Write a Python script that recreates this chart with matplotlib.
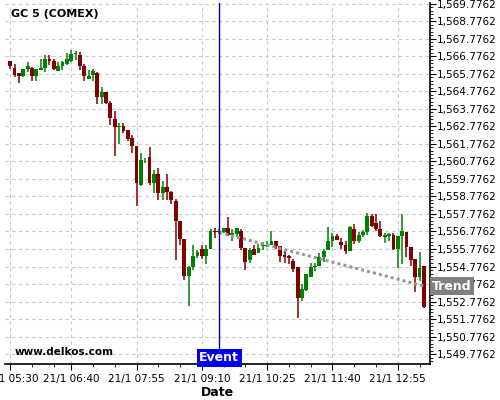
import numpy as np
import matplotlib
matplotlib.use("Agg")
import matplotlib.pyplot as plt
from matplotlib.ticker import FixedLocator, AutoMinorLocator, FuncFormatter

# 5 minute candles from 21/1 05:30
start_min = 5 * 60 + 30
opens = [1566.49, 1566.09, 1565.83, 1565.65, 1566.03, 1566.09, 1565.65, 1566.01, 1566.11, 1566.61,
         1566.49, 1565.94, 1566.20, 1566.32, 1566.49, 1566.89, 1566.83, 1566.20, 1565.50, 1565.71,
         1565.83, 1564.46, 1564.72, 1564.11, 1563.22, 1562.74, 1562.82, 1562.59, 1562.10, 1561.64,
         1559.43, 1560.83, 1561.00, 1559.53, 1560.08, 1558.96, 1559.34, 1559.02, 1558.54, 1557.37,
         1556.32, 1554.23, 1554.72, 1555.39, 1555.75, 1555.37, 1555.75, 1556.82, 1556.76, 1556.76,
         1557.00, 1556.60, 1556.64, 1556.83, 1555.83, 1555.12, 1555.75, 1555.54, 1555.96, 1555.92,
         1556.03, 1556.21, 1555.92, 1555.41, 1555.35, 1555.11, 1554.73, 1552.97, 1553.44, 1554.20,
         1554.73, 1554.83, 1555.34, 1555.74, 1556.22, 1556.54, 1556.20, 1556.03, 1555.65, 1556.94,
         1556.22, 1556.60, 1556.73, 1557.68, 1557.24, 1556.94, 1556.48, 1556.54, 1556.58, 1555.78,
         1556.54, 1556.73, 1555.91, 1555.21, 1554.16, 1554.81]
highs = [1566.50, 1566.32, 1565.83, 1566.07, 1566.43, 1566.17, 1566.03, 1566.60, 1566.83, 1566.83,
         1566.61, 1566.47, 1566.51, 1566.97, 1567.14, 1567.10, 1567.00, 1566.32, 1565.98, 1566.07,
         1565.90, 1565.03, 1564.72, 1564.21, 1563.64, 1562.99, 1562.99, 1562.59, 1562.31, 1561.64,
         1561.28, 1560.98, 1561.62, 1560.29, 1560.41, 1559.63, 1560.06, 1559.11, 1558.64, 1557.37,
         1556.32, 1554.82, 1556.02, 1555.69, 1556.02, 1556.02, 1556.93, 1557.00, 1556.90, 1556.95,
         1557.63, 1556.91, 1556.95, 1556.91, 1555.83, 1555.81, 1556.02, 1556.07, 1556.17, 1556.26,
         1556.83, 1556.26, 1555.92, 1555.69, 1555.41, 1555.21, 1554.73, 1553.78, 1554.32, 1555.00,
         1555.00, 1555.53, 1555.78, 1557.02, 1556.67, 1556.63, 1556.39, 1556.26, 1557.11, 1557.21,
         1556.73, 1556.86, 1557.81, 1557.78, 1557.78, 1557.36, 1556.67, 1556.67, 1556.67, 1556.54,
         1557.78, 1556.73, 1555.91, 1555.21, 1555.59, 1554.81]
lows = [1566.08, 1565.60, 1565.26, 1565.60, 1565.88, 1565.37, 1565.37, 1566.00, 1565.88, 1566.30,
        1565.98, 1565.92, 1565.98, 1566.26, 1566.45, 1566.59, 1566.01, 1565.37, 1565.50, 1565.37,
        1564.04, 1564.08, 1564.08, 1562.84, 1561.11, 1561.78, 1562.42, 1561.93, 1561.27, 1558.22,
        1559.38, 1560.67, 1559.44, 1558.96, 1558.58, 1558.58, 1558.58, 1558.35, 1555.12, 1556.02,
        1554.02, 1552.54, 1554.59, 1555.27, 1555.18, 1554.93, 1555.75, 1556.41, 1556.65, 1556.68,
        1556.49, 1556.23, 1556.45, 1555.73, 1554.55, 1554.99, 1555.41, 1555.54, 1555.69, 1555.88,
        1556.03, 1555.79, 1555.03, 1554.97, 1554.93, 1554.45, 1551.84, 1552.83, 1553.40, 1554.20,
        1554.54, 1554.83, 1555.02, 1555.74, 1555.88, 1556.29, 1555.78, 1555.50, 1555.65, 1556.07,
        1556.10, 1556.44, 1556.60, 1557.02, 1556.79, 1556.44, 1556.10, 1556.26, 1555.69, 1554.70,
        1554.93, 1555.30, 1554.83, 1553.31, 1553.97, 1552.42]
closes = [1566.23, 1565.71, 1565.67, 1566.03, 1566.20, 1565.65, 1566.03, 1566.09, 1566.61, 1566.51,
          1566.05, 1566.20, 1566.43, 1566.61, 1566.91, 1566.93, 1566.23, 1565.65, 1565.67, 1565.92,
          1564.46, 1564.72, 1564.11, 1563.26, 1562.74, 1562.82, 1562.52, 1562.06, 1561.64, 1559.55,
          1560.84, 1560.86, 1559.53, 1560.03, 1558.96, 1559.34, 1559.02, 1558.60, 1557.37, 1556.32,
          1554.23, 1554.72, 1555.39, 1555.63, 1555.37, 1555.75, 1556.83, 1556.76, 1556.80, 1556.95,
          1556.57, 1556.68, 1556.95, 1555.83, 1555.03, 1555.73, 1555.41, 1555.83, 1556.02, 1556.03,
          1556.21, 1555.92, 1555.35, 1555.31, 1555.27, 1554.64, 1552.97, 1553.50, 1554.32, 1554.73,
          1554.83, 1555.34, 1555.65, 1556.22, 1556.54, 1556.31, 1556.03, 1555.65, 1557.02, 1556.22,
          1556.60, 1556.73, 1557.68, 1557.11, 1556.94, 1556.54, 1556.58, 1556.63, 1555.78, 1556.54,
          1556.83, 1555.91, 1555.15, 1554.16, 1554.70, 1552.45]

tick_labels = ["21/1 05:30", "21/1 06:40", "21/1 07:55", "21/1 09:10",
               "21/1 10:25", "21/1 11:40", "21/1 12:55"]
y_ticks = [1549.7762 + k for k in range(21)]

event_time = "09:30"
trend_start = ("09:30", 1556.72)
trend_end = ("13:25", 1553.66)


def to_min(hhmm):
    h, m = hhmm.split(":")
    return int(h) * 60 + int(m) - start_min


opens = np.array(opens)
highs = np.array(highs)
lows = np.array(lows)
closes = np.array(closes)
x = np.arange(len(opens)) * 5

up = closes >= opens
colors = np.where(up, "#008000", "#800000")

fig = plt.figure(figsize=(5, 4), dpi=100)
ax = fig.add_axes([0.01, 0.09, 0.85, 0.9025])

ax.vlines(x, lows, highs, colors=colors, linewidth=1.1, zorder=2)
body = np.maximum(np.abs(closes - opens), 0.05)
ax.bar(x, body, bottom=np.minimum(opens, closes), width=4.4, color=colors,
       linewidth=0, zorder=3)

# trend line
ax.plot([to_min(trend_start[0]), to_min(trend_end[0])], [trend_start[1], trend_end[1]],
        linestyle=(0, (1, 1)), color="#999999", linewidth=2.2, zorder=4)

# event line
ex = to_min(event_time)
ax.axvline(ex, color="#0000aa", linewidth=1, zorder=5)

ax.set_xlim(-6, 482)
ax.set_ylim(1549.21, 1569.82)

major_x = [to_min(t.split(" ")[1]) for t in tick_labels]
ax.xaxis.set_major_locator(FixedLocator(major_x))
ax.set_xticklabels(tick_labels, fontsize=7.5)
minor_x = []
for mx in major_x:
    minor_x += [mx + 25, mx + 50]
ax.xaxis.set_minor_locator(FixedLocator(minor_x))

ax.yaxis.tick_right()
ax.yaxis.set_major_locator(FixedLocator(y_ticks))
ax.yaxis.set_major_formatter(FuncFormatter(lambda v, p: "{:,.4f}".format(v)))
ax.yaxis.set_minor_locator(AutoMinorLocator(5))
ax.tick_params(axis="y", labelsize=7.5, length=4, pad=1)
ax.tick_params(axis="y", which="minor", length=2)
ax.tick_params(axis="x", length=4, pad=3)
ax.tick_params(axis="x", which="minor", length=2)

ax.grid(True, which="major", color="#c8c8c8", linestyle=(0, (3, 3)), linewidth=0.8)
ax.set_axisbelow(True)

for s in ["left", "top"]:
    ax.spines[s].set_visible(False)
ax.spines["right"].set_linewidth(1.2)
ax.spines["bottom"].set_linewidth(1.2)

ax.set_xlabel("Date", fontsize=9, fontweight="bold", labelpad=2)

ax.text(0.013, 0.982, "GC 5 (COMEX)", transform=ax.transAxes, fontsize=8,
        fontweight="bold", va="top", ha="left")
ax.text(0.023, 0.02, "www.delkos.com", transform=ax.transAxes, fontsize=7.5,
        fontweight="bold", va="bottom", ha="left")

ax.text(ex, 1549.21, "Event", fontsize=9, fontweight="bold", color="white",
        ha="center", va="bottom", zorder=6,
        bbox=dict(boxstyle="square,pad=0.2", facecolor="#0000ee", edgecolor="none"))

ax.text(1.005, trend_end[1], "Trend", transform=ax.get_yaxis_transform(), fontsize=9,
        fontweight="bold", color="white", ha="left", va="center", zorder=6,
        bbox=dict(boxstyle="square,pad=0.2", facecolor="#808080", edgecolor="none"),
        clip_on=False)

fig.savefig("out.png", dpi=100)
